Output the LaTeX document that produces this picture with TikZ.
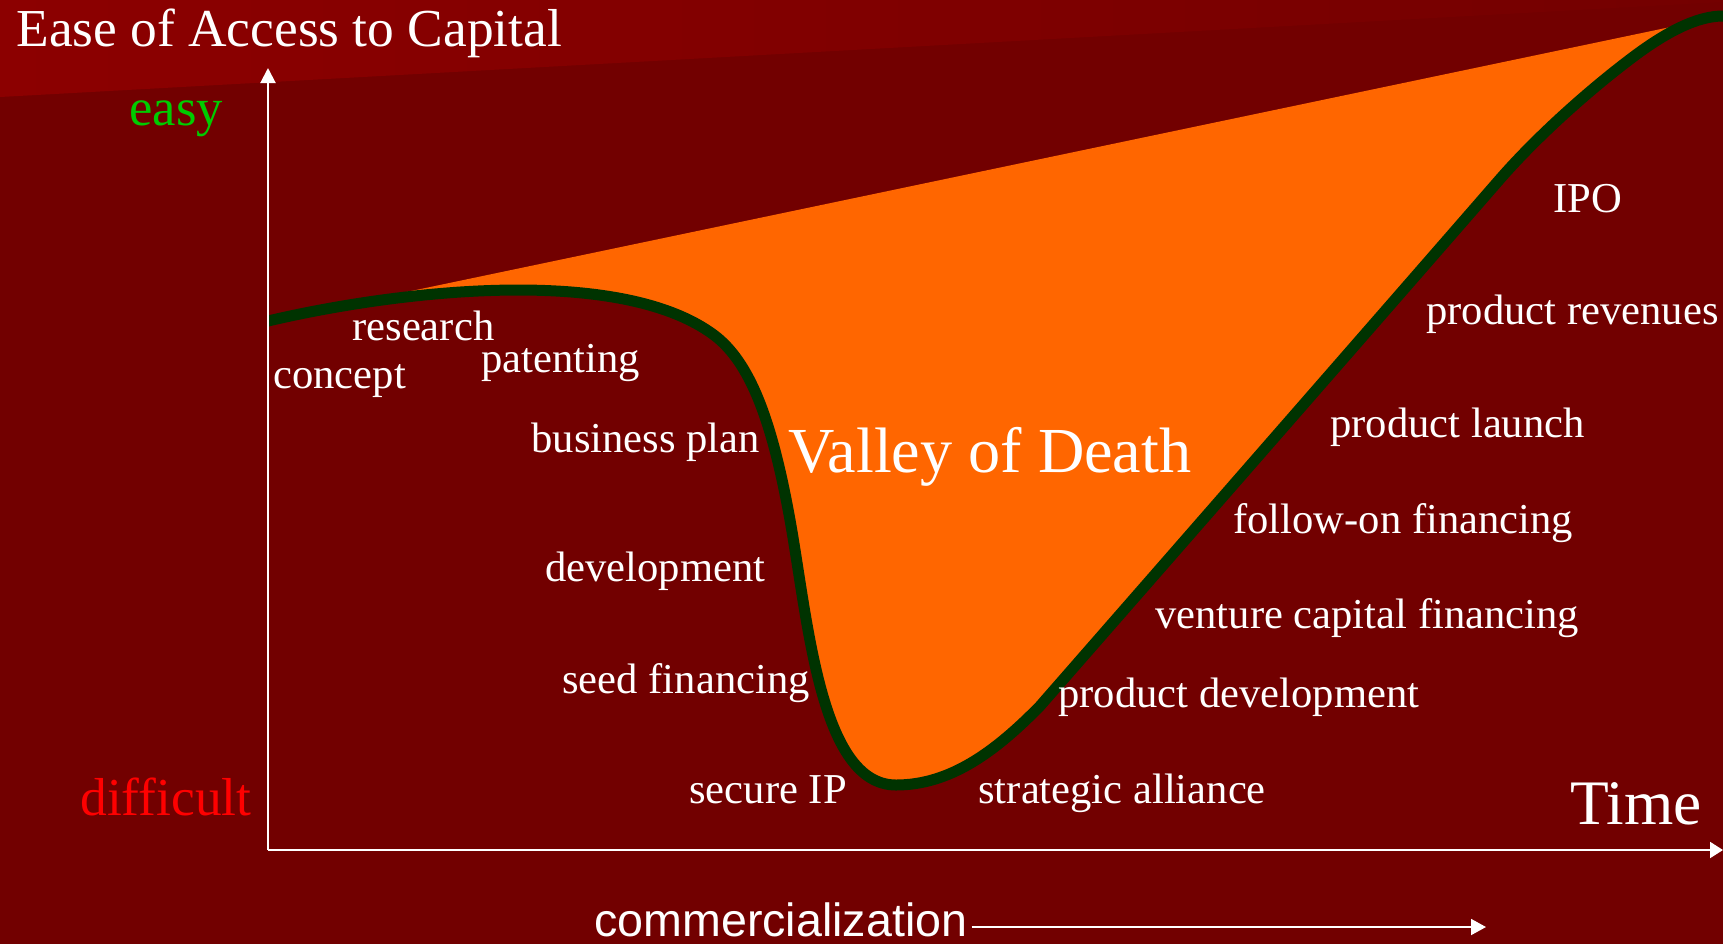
\documentclass[tikz,border=0pt]{standalone}
\usepackage{fontspec}
\setmainfont{Liberation Serif}
\newfontfamily\arialf{Liberation Sans}
\usetikzlibrary{arrows.meta}
\definecolor{bgred}{RGB}{114,0,0}
\definecolor{bannerL}{RGB}{140,0,0}
\definecolor{bannerR}{RGB}{116,0,0}
\definecolor{valley}{RGB}{255,102,0}
\definecolor{curvegreen}{RGB}{0,51,0}
\definecolor{easygreen}{RGB}{0,204,0}
\definecolor{hardred}{RGB}{255,0,0}
\begin{document}
\begin{tikzpicture}[x=0.5pt,y=-0.5pt,
  txt/.style={anchor=base west, inner sep=0pt, text=white},
  lbl/.style={txt, font=\fontsize{21.3}{25}\selectfont},
  axisline/.style={white, line width=1pt},
  valleycurve/.style={curvegreen, line width=5.5pt}]
\useasboundingbox (0,0) rectangle (1723,944);
\fill[bgred] (0,0) rectangle (1723,944);
\shade[left color=bannerL, right color=bannerR] (0,0) -- (1723,0) -- (1723,2) -- (0,97) -- cycle;

% valley fill and curve
\fill[valley] (268,321) .. controls (400,290) and (620,265) .. (714,335)
  .. controls (750,362) and (772,420) .. (790,520)
  .. controls (808,620) and (820,785) .. (896,785)
  .. controls (950,785) and (995,752) .. (1040,706)
  .. controls (1200,523) and (1400,294) .. (1500,179)
  .. controls (1540,133.2) and (1593,87) .. (1633,57)
  .. controls (1668,30.75) and (1698,16) .. (1723,16) -- cycle;
\draw[valleycurve] (268,321) .. controls (400,290) and (620,265) .. (714,335)
  .. controls (750,362) and (772,420) .. (790,520)
  .. controls (808,620) and (820,785) .. (896,785)
  .. controls (950,785) and (995,752) .. (1040,706)
  .. controls (1200,523) and (1400,294) .. (1500,179)
  .. controls (1540,133.2) and (1593,87) .. (1633,57)
  .. controls (1668,30.75) and (1698,16) .. (1723,16);

% axes
\coordinate (origin) at (268,850);
\coordinate (ytip) at (268,68);
\coordinate (xtip) at (1723,850);
\draw[axisline, -{Triangle[length=7.5pt,width=7.5pt]}] (origin) -- (ytip);
\draw[axisline, -{Triangle[length=6.5pt,width=8pt]}] (origin) -- (xtip);

% titles
\node[txt, font=\fontsize{26.7}{30}\selectfont] (title) at (16,46) {Ease of Access to Capital};
\node[txt, text=easygreen, font=\fontsize{26.3}{30}\selectfont] (easy) at (129,125) {easy};
\node[txt, text=hardred, font=\fontsize{26.7}{30}\selectfont] (difficult) at (80,815) {difficult};
\node[txt, font=\fontsize{31.7}{36}\selectfont] (time) at (1570,824) {Time};
\node[txt, font=\fontsize{32.1}{36}\selectfont] (vod) at (788,472) {Valley of Death};
\node[txt, font=\arialf\fontsize{23.3}{27}\selectfont] (comm) at (594,936) {commercialization};
\coordinate (commend) at (1486,927);
\draw[white, line width=0.9pt, -{Triangle[length=7.5pt,width=8pt]}] ([xshift=2pt,yshift=4.5pt]comm.base east) -- (commend);

% stage labels
\node[lbl] (research) at (352,340) {research};
\node[lbl] (concept) at (273,388) {concept};
\node[lbl] (patenting) at (481,372) {patenting};
\node[lbl] (bplan) at (531,452) {business plan};
\node[lbl] (develop) at (545,581) {development};
\node[lbl] (seed) at (562,693) {seed financing};
\node[lbl] (secure) at (689,803) {secure IP};
\node[lbl] (alliance) at (978,803) {strategic alliance};
\node[lbl] (proddev) at (1058,707) {product development};
\node[lbl] (venture) at (1155,628) {venture capital financing};
\node[lbl] (followon) at (1233,533) {follow-on financing};
\node[lbl] (launch) at (1330,437) {product launch};
\node[lbl] (revenues) at (1426,324) {product revenues};
\node[lbl] (ipo) at (1553,212) {IPO};
\end{tikzpicture}
\end{document}
